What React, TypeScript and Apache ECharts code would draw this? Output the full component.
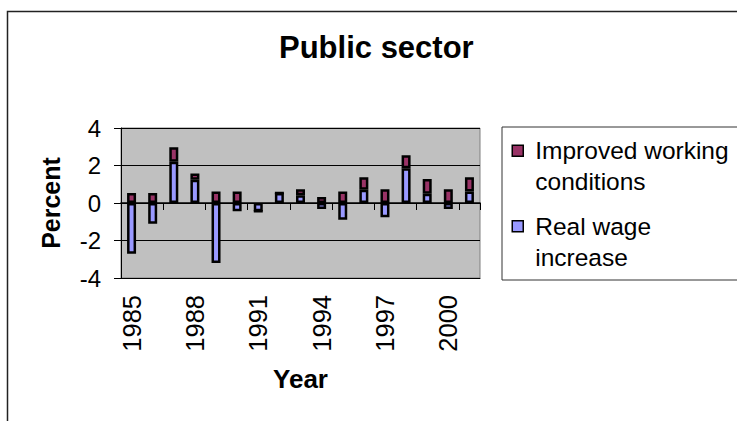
import React, { useEffect, useRef } from "react";
import * as echarts from "echarts";

// Years on the category axis
const years = [
  "1985", "1986", "1987", "1988", "1989", "1990", "1991", "1992", "1993",
  "1994", "1995", "1996", "1997", "1998", "1999", "2000", "2001",
];

// Percent contributions per year
const realWageIncrease = [
  -2.7, -1.1, 2.2, 1.24, -3.2, -0.44, -0.44, 0.53, 0.41,
  -0.32, -0.89, 0.71, -0.76, 1.86, 0.5, -0.32, 0.62,
];
const improvedWorkingConditions = [
  0.53, 0.53, 0.78, 0.34, 0.62, 0.62, 0, 0, 0.33,
  0.32, 0.62, 0.67, 0.74, 0.69, 0.78, 0.74, 0.76,
];

// Value axis range and step
const yMin = -4;
const yMax = 4;
const yStep = 2;

const seriesNames = ["Improved working conditions", "Real wage increase"];
const legendLabels: Record<string, string> = {
  "Improved working conditions": "Improved working\nconditions",
  "Real wage increase": "Real wage\nincrease",
};

const FONT = "'Liberation Sans', Arial, Helvetica, sans-serif";
const MAROON = "#993366";
const LAVENDER = "#9999FF";

// Legend swatch: a small square in the upper part of a tall box so it lines up with the first text line
const SWATCH = "path://M0,0M0,10h11v11h-11zM0,62";

export default function App() {
  const ref = useRef<HTMLDivElement>(null);

  useEffect(() => {
    if (!ref.current) return;
    const chart = echarts.init(ref.current, null, { renderer: "svg" });

    const barStyle = (color: string) => ({
      color,
      borderColor: "#000",
      borderWidth: 2.5,
    });

    chart.setOption({
      animation: false,
      backgroundColor: "#fff",
      title: {
        text: "Public sector",
        left: 279,
        top: 32,
        padding: 0,
        textStyle: {
          fontFamily: FONT,
          fontSize: 31,
          fontWeight: "bold",
          color: "#000",
        },
      },
      graphic: [
        {
          type: "rect",
          shape: { x: 7.5, y: 11.5, width: 800, height: 500 },
          style: { fill: "none", stroke: "#222", lineWidth: 1.5 },
          silent: true,
        },
      ],
      legend: {
        data: seriesNames,
        orient: "vertical",
        left: 502,
        top: 127,
        padding: [7.5, 30, 6.5, 9.5],
        itemGap: 12,
        itemWidth: 11,
        itemHeight: 62,
        icon: SWATCH,
        selectedMode: false,
        borderColor: "#333",
        borderWidth: 1,
        backgroundColor: "#fff",
        itemStyle: { borderColor: "#000", borderWidth: 1.5 },
        formatter: (name: string) => legendLabels[name] ?? name,
        textStyle: {
          fontFamily: FONT,
          fontSize: 24.5,
          lineHeight: 31,
          color: "#000",
          padding: [0, 0, 0, 7],
        },
      },
      grid: {
        left: 121,
        top: 128,
        width: 359,
        height: 150,
        show: true,
        backgroundColor: "#C0C0C0",
        borderColor: "#808080",
        borderWidth: 1,
        containLabel: false,
      },
      xAxis: [
        {
          type: "category",
          data: years,
          position: "bottom",
          name: "Year",
          nameLocation: "middle",
          nameGap: 88,
          nameTextStyle: {
            fontFamily: FONT,
            fontSize: 26,
            fontWeight: "bold",
            color: "#000",
          },
          axisLine: { show: true, onZero: false, lineStyle: { color: "#000", width: 1 } },
          axisTick: { show: false },
          axisLabel: {
            interval: 2,
            rotate: 90,
            margin: 17,
            fontFamily: FONT,
            fontSize: 25.5,
            color: "#000",
          },
          splitLine: { show: false },
        },
        {
          // zero line with tick marks between the years
          type: "category",
          data: years,
          position: "top",
          axisLine: { show: true, onZero: true, lineStyle: { color: "#000", width: 1.5 } },
          axisTick: { show: true, inside: true, length: 7, lineStyle: { color: "#000", width: 1 } },
          axisLabel: { show: false },
          splitLine: { show: false },
        },
      ],
      yAxis: {
        type: "value",
        min: yMin,
        max: yMax,
        interval: yStep,
        name: "Percent",
        nameLocation: "middle",
        nameGap: 58,
        nameTextStyle: {
          fontFamily: FONT,
          fontSize: 25,
          fontWeight: "bold",
          color: "#000",
        },
        axisLine: { show: true, lineStyle: { color: "#000", width: 1 } },
        axisTick: { show: true, length: 7, lineStyle: { color: "#000" } },
        axisLabel: {
          margin: 20,
          fontFamily: FONT,
          fontSize: 24,
          color: "#000",
        },
        splitLine: { show: true, lineStyle: { color: "#000", width: 1 } },
      },
      series: [
        {
          name: "Real wage increase",
          type: "bar",
          stack: "total",
          xAxisIndex: 0,
          barWidth: 9,
          data: realWageIncrease,
          itemStyle: barStyle(LAVENDER),
        },
        {
          name: "Improved working conditions",
          type: "bar",
          stack: "total",
          xAxisIndex: 0,
          barWidth: 9,
          data: improvedWorkingConditions,
          itemStyle: barStyle(MAROON),
        },
      ],
    });

    return () => chart.dispose();
  }, []);

  return (
    <div
      ref={ref}
      style={{
        position: "fixed",
        left: 0,
        top: 0,
        width: 737,
        height: 421,
        background: "#fff",
      }}
    />
  );
}
